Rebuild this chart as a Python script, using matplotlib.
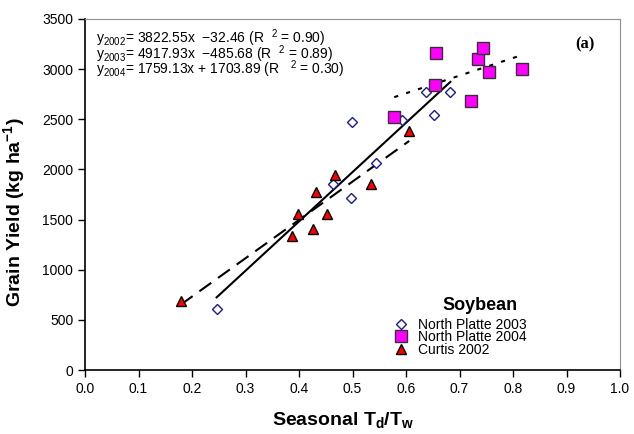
import matplotlib
matplotlib.use("Agg")
import matplotlib.pyplot as plt
import numpy as np

plt.rcParams['font.family'] = ['Liberation Sans', 'DejaVu Sans']
plt.rcParams['mathtext.fontset'] = 'custom'
plt.rcParams['mathtext.rm'] = 'Liberation Sans'
plt.rcParams['mathtext.it'] = 'Liberation Sans:italic'
plt.rcParams['mathtext.bf'] = 'Liberation Sans:bold'

# North Platte 2003 (open diamonds)
np03_x = [0.246, 0.464, 0.497, 0.499, 0.543, 0.593, 0.638, 0.652, 0.683]
np03_y = [605, 1858, 1718, 2473, 2067, 2493, 2769, 2540, 2769]

# North Platte 2004 (magenta squares)
np04_x = [0.578, 0.654, 0.657, 0.721, 0.734, 0.743, 0.756, 0.816]
np04_y = [2526, 2845, 3158, 2686, 3101, 3208, 2972, 3002]

# Curtis 2002 (red triangles)
cu02_x = [0.179, 0.386, 0.399, 0.427, 0.431, 0.453, 0.468, 0.534, 0.606]
cu02_y = [685, 1336, 1559, 1409, 1778, 1552, 1941, 1851, 2383]

# regression fits: slope, intercept, x range
fit02 = (3822.55, -32.46, 0.179, 0.606)
fit03 = (4917.93, -485.68, 0.246, 0.683)
fit04 = (1759.13, 1703.89, 0.578, 0.816)

eq_lines = [
    r'$\mathregular{y_{2002}}$= 3822.55x  −32.46 (R  $\mathregular{{}^{2}}$ = 0.90)',
    r'$\mathregular{y_{2003}}$= 4917.93x  −485.68 (R  $\mathregular{{}^{2}}$ = 0.89)',
    r'$\mathregular{y_{2004}}$= 1759.13x + 1703.89 (R   $\mathregular{{}^{2}}$ = 0.30)',
]

fig = plt.figure(figsize=(6.34, 4.34), dpi=100)
ax = fig.add_axes([85 / 634, 1 - 370 / 434, 535 / 634, 351 / 434])


def fit_line(fit, **kw):
    a, b, x0, x1 = fit
    xs = np.array([x0, x1])
    ax.plot(xs, a * xs + b, color='black', lw=1.5, **kw)


fit_line(fit02, dashes=(7, 4))
fit_line(fit03)
fit_line(fit04, dashes=(2, 4))

h1, = ax.plot(np03_x, np03_y, 'D', ms=5.5, mfc='white', mec='#1a1a9a', mew=1.0, ls='none')
h2, = ax.plot(np04_x, np04_y, 's', ms=8, mfc='#ff00ff', mec='#333333', mew=1.0, ls='none')
h3, = ax.plot(cu02_x, cu02_y, '^', ms=7, mfc='#ff0000', mec='black', mew=1.0, ls='none')

ax.set_xlim(0, 1)
ax.set_ylim(0, 3500)
ax.set_xticks(np.arange(0, 1.01, 0.1))
ax.set_xticklabels(['%.1f' % t for t in np.arange(0, 1.01, 0.1)])
ax.set_yticks(np.arange(0, 3501, 500))
ax.tick_params(labelsize=10, length=5, width=1, direction='out')
for s in ['top', 'right']:
    ax.spines[s].set_color('#909090')
for s in ['left', 'bottom']:
    ax.spines[s].set_linewidth(1.2)

ax.set_xlabel(r'Seasonal T$_\mathbf{d}$/T$_\mathbf{w}$', fontsize=14, fontweight='bold')
ax.set_ylabel(r'Grain Yield (kg ha$^\mathbf{-1}$)', fontsize=14, fontweight='bold')
ax.xaxis.set_label_coords(0.482, -0.114)
ax.yaxis.set_label_coords(-0.108, 0.45)

for i, line in enumerate(eq_lines):
    ax.text(0.0206, 0.931 - i * 0.044, line, transform=ax.transAxes, fontsize=10, va='baseline')

ax.text(0.935, 0.929, '(a)', transform=ax.transAxes, fontsize=12, fontweight='bold',
        family='Liberation Serif', ha='center', va='center')

ax.text(0.738, 0.185, 'Soybean', transform=ax.transAxes, fontsize=13, fontweight='bold',
        ha='center', va='center')
ax.legend([h1, h2, h3], ['North Platte 2003', 'North Platte 2004', 'Curtis 2002'],
          loc='upper left', bbox_to_anchor=((394 - 85) / 535, (370 - 318) / 351),
          frameon=False, fontsize=10, borderpad=0, borderaxespad=0,
          handlelength=1.0, handletextpad=0.73, labelspacing=-0.12)

fig.savefig('out.png', dpi=100)
